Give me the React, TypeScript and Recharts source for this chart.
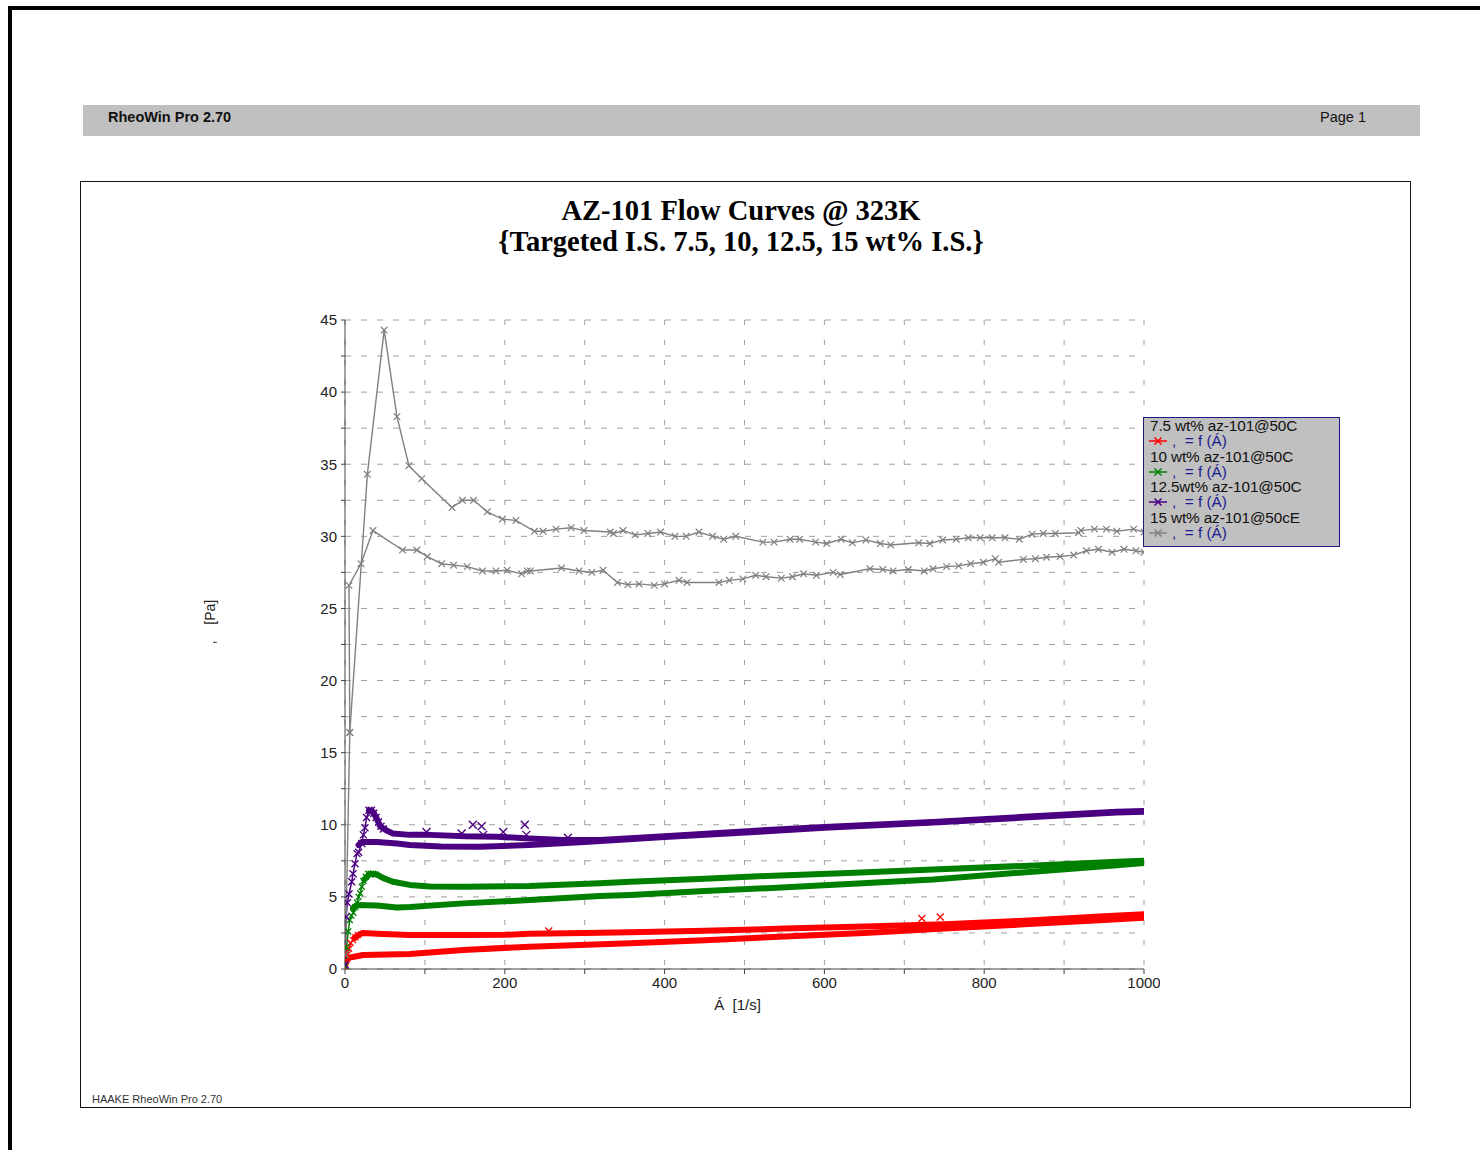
import React from 'react';
import { ComposedChart, Line, XAxis, YAxis, CartesianGrid } from 'recharts';

// ---------- data ----------
const xTicks = [0, 100, 200, 300, 400, 500, 600, 700, 800, 900, 1000];
const yTicks = [0, 2.5, 5, 7.5, 10, 12.5, 15, 17.5, 20, 22.5, 25, 27.5, 30, 32.5, 35, 37.5, 40, 42.5, 45];

const seriesNames = ['7.5 wt% az-101@50C', '10 wt% az-101@50C', '12.5wt% az-101@50C', '15 wt% az-101@50cE'];
const seriesColors = ['#ff0000', '#008000', '#4b0082', '#808080'];
const seriesFormula = ',  = f (Á)';

// 15 wt% (gray) – up ramp
const grayUp: number[][] = [
  [0.5, 1], [6, 16.4], [28, 34.3], [49, 44.3], [65, 38.3], [80, 34.9], [96, 34.0], [134, 32.0], [147, 32.5],
  [161, 32.5], [178, 31.7], [197, 31.2], [214, 31.1], [237, 30.35], [248, 30.35], [264, 30.5], [283, 30.6],
  [299, 30.4], [332, 30.3], [336, 30.2], [348, 30.4], [363, 30.1], [379, 30.2], [395, 30.3], [413, 30.0],
  [427, 30.0], [443, 30.3], [460, 30.0], [474, 29.8], [489, 30.0], [523, 29.6], [537, 29.6], [557, 29.8],
  [569, 29.8], [589, 29.6], [603, 29.5], [621, 29.8], [635, 29.55], [652, 29.75], [670, 29.5], [683, 29.4],
  [718, 29.55], [732, 29.5], [748, 29.75], [765, 29.8], [780, 29.9], [795, 29.9], [810, 29.9], [826, 29.9],
  [844, 29.8], [860, 30.15], [874, 30.2], [889, 30.2], [918, 30.25], [921, 30.4], [938, 30.5], [953, 30.5],
  [966, 30.35], [987, 30.5], [1000, 30.3],
];
// 15 wt% (gray) – down ramp
const grayDown: number[][] = [
  [6, 16.4], [5, 26.6], [20, 28.1], [35, 30.4], [72, 29.05], [90, 29.05], [103, 28.6], [121, 28.1], [136, 28.0],
  [153, 27.9], [172, 27.6], [189, 27.6], [203, 27.65], [221, 27.4], [228, 27.6], [232, 27.6], [271, 27.8],
  [293, 27.6], [309, 27.5], [323, 27.65], [341, 26.8], [354, 26.65], [368, 26.7], [387, 26.6], [400, 26.7],
  [418, 26.95], [428, 26.8], [468, 26.8], [481, 26.95], [498, 27.05], [514, 27.3], [527, 27.2], [546, 27.1],
  [560, 27.2], [574, 27.4], [590, 27.3], [611, 27.5], [620, 27.35], [657, 27.75], [673, 27.7], [686, 27.6],
  [705, 27.7], [725, 27.6], [736, 27.75], [753, 27.9], [768, 27.95], [783, 28.1], [799, 28.2], [814, 28.45],
  [818, 28.2], [849, 28.4], [864, 28.45], [878, 28.55], [895, 28.6], [912, 28.7], [928, 29.0], [943, 29.1],
  [960, 28.9], [975, 29.1], [990, 29.0], [1000, 28.9],
];

// 12.5 wt% (purple)
const purpleStart: number[][] = [
  [0.3, 0.3], [1.3, 3.6], [3, 4.6], [5, 5.2], [8.4, 6.05], [10, 6.6], [12.5, 7.3], [15, 8.0], [17, 8.1],
  [21, 8.7], [23, 9.3], [25, 9.8], [27, 10.5], [30, 11.0], [33, 11.0], [36, 10.8], [39, 10.5], [42, 10.2],
  [45, 9.9], [48, 9.7],
];
const purpleUp: number[][] = [
  [30, 11.0], [35, 10.9], [40, 10.4], [44, 9.9], [52, 9.6], [60, 9.4], [81, 9.3], [106, 9.3], [150, 9.2],
  [190, 9.17], [231, 9.05], [273, 8.95], [319, 8.95], [400, 9.2], [528, 9.64], [600, 9.85], [736, 10.2],
  [850, 10.55], [966, 10.9], [1000, 10.95],
];
const purpleDown: number[][] = [
  [17, 8.6], [21, 8.8], [40, 8.8], [65, 8.7], [81, 8.6], [120, 8.5], [169, 8.48], [231, 8.6], [300, 8.8],
  [400, 9.15], [528, 9.55], [600, 9.8], [736, 10.15], [850, 10.5], [966, 10.85], [1000, 10.9],
];
const purpleOutliers: number[][] = [
  [102, 9.5], [146, 9.4], [160, 10.0], [171, 9.9], [173, 9.3], [198, 9.5], [225, 10.0], [227, 9.3], [279, 9.1],
];

// 10 wt% (green)
const greenStart: number[][] = [
  [0.3, 0.2], [2, 1.5], [4, 2.6], [6, 3.4], [8, 3.7], [10.5, 3.9], [13, 4.3], [15, 4.6], [17, 5.0],
  [19, 5.25], [21, 5.7], [23, 6.1], [26, 6.4], [29, 6.6], [32, 6.6], [35, 6.6], [38, 6.55],
];
const greenUp: number[][] = [
  [24, 6.2], [31, 6.6], [40, 6.55], [48, 6.3], [60, 6.05], [81, 5.83], [106, 5.72], [150, 5.7], [231, 5.75],
  [319, 5.94], [357, 6.05], [450, 6.25], [528, 6.45], [630, 6.65], [736, 6.9], [850, 7.15], [966, 7.44],
  [1000, 7.5],
];
const greenDown: number[][] = [
  [10, 4.2], [14.6, 4.44], [40, 4.4], [65, 4.27], [81, 4.3], [148, 4.55], [231, 4.78], [319, 5.06],
  [357, 5.13], [450, 5.4], [528, 5.6], [630, 5.9], [736, 6.2], [861, 6.75], [966, 7.2], [1000, 7.35],
];

// 7.5 wt% (red)
const redStart: number[][] = [
  [0.3, 0.1], [1.5, 0.6], [3, 1.0], [5, 1.4], [7, 1.8], [10, 2.0], [13, 2.2], [16, 2.35],
];
const redUp: number[][] = [
  [12, 2.15], [18, 2.4], [23, 2.5], [40, 2.45], [81, 2.36], [106, 2.35], [150, 2.35], [200, 2.37],
  [231, 2.45], [300, 2.5], [357, 2.55], [450, 2.65], [550, 2.8], [650, 2.95], [750, 3.1], [850, 3.35],
  [950, 3.65], [1000, 3.8],
];
const redDown: number[][] = [
  [1, 0.4], [3, 0.65], [6, 0.8], [23, 0.97], [81, 1.04], [148, 1.32], [231, 1.55], [357, 1.78],
  [450, 2.0], [550, 2.25], [650, 2.5], [750, 2.8], [850, 3.1], [950, 3.4], [1000, 3.55],
];
const redOutliers: number[][] = [[255, 2.63], [722, 3.5], [745, 3.6]];

// ---------- helpers ----------
const toPts = (a: number[][]) => a.map(([x, y]) => ({ x, y }));
const crossPath = (cx: number, cy: number, r: number) =>
  `M${cx - r},${cy - r}L${cx + r},${cy + r}M${cx - r},${cy + r}L${cx + r},${cy - r}`;
const makeDot = (color: string, r: number, sw: number) => (p: any) => {
  if (p == null || p.cx == null || p.cy == null) return <g key={`e${p?.index}`} />;
  return <path key={`d${p.index}`} d={crossPath(p.cx, p.cy, r)} stroke={color} strokeWidth={sw} fill="none" />;
};

const sans = '"Liberation Sans", Arial, sans-serif';
const tickStyle = { fontSize: 15, fill: '#222', fontFamily: sans };
const BAND = 6;

const [RED, GREEN, PURPLE, GRAY] = seriesColors;

function LegendBox() {
  return (
    <div
      style={{
        position: 'absolute', left: 1143, top: 417, width: 195, height: 128,
        background: '#c0c0c0', border: '1.5px solid #1c1c80', fontFamily: sans, fontSize: 15.3,
        lineHeight: '15.3px', paddingTop: 0, zIndex: 5,
      }}
    >
      {seriesNames.map((n, i) => (
        <div key={n}>
          <div style={{ color: '#111', paddingLeft: 6, whiteSpace: 'nowrap', letterSpacing: -0.1 }}>{n}</div>
          <div style={{ display: 'flex', alignItems: 'center', paddingLeft: 4, height: 15.3 }}>
            <svg width={20} height={10} style={{ display: 'block' }}>
              <line x1={1} y1={5} x2={19} y2={5} stroke={seriesColors[i]} strokeWidth={1.5} />
              <path d={crossPath(10, 5, 3.5)} stroke={seriesColors[i]} strokeWidth={1.5} fill="none" />
            </svg>
            <span style={{ color: '#1c1c90', marginLeft: 4, whiteSpace: 'pre' }}>{seriesFormula}</span>
          </div>
        </div>
      ))}
    </div>
  );
}

export default function App() {
  return (
    <div style={{ position: 'absolute', left: 0, top: 0, width: 1480, height: 1150, overflow: 'hidden', background: '#fff' }}>
      {/* page frame */}
      <div style={{ position: 'absolute', left: 8, top: 6, width: 1500, height: 1200, borderLeft: '4.5px solid #000', borderTop: '4px solid #000' }} />
      {/* header bar */}
      <div style={{ position: 'absolute', left: 83, top: 105, width: 1337, height: 31, background: '#c0c0c0' }} />
      <div style={{ position: 'absolute', left: 108, top: 109, fontFamily: sans, fontWeight: 'bold', fontSize: 14.5, color: '#111', whiteSpace: 'nowrap' }}>RheoWin Pro 2.70</div>
      <div style={{ position: 'absolute', left: 1320, top: 109, fontFamily: sans, fontSize: 14.5, color: '#111', whiteSpace: 'nowrap' }}>Page 1</div>
      {/* chart frame */}
      <div style={{ position: 'absolute', left: 80, top: 181, width: 1329, height: 925, border: '1.3px solid #111' }} />
      {/* footer */}
      <div style={{ position: 'absolute', left: 92, top: 1093, fontFamily: sans, fontSize: 11, color: '#333', whiteSpace: 'nowrap', lineHeight: '13px' }}>HAAKE RheoWin Pro 2.70</div>
      {/* title */}
      <div style={{ position: 'absolute', left: 341, top: 195, width: 800, textAlign: 'center', fontFamily: '"Liberation Serif", "Times New Roman", serif', fontWeight: 'bold', fontSize: 28.5, lineHeight: '31px', color: '#000' }}>
        <div>AZ-101 Flow Curves @ 323K</div>
        <div>{'{Targeted I.S. 7.5, 10, 12.5, 15 wt% I.S.}'}</div>
      </div>

      <div style={{ position: 'absolute', left: 200, top: 300 }}>
        <ComposedChart width={960} height={720} margin={{ top: 20, right: 16, bottom: 21, left: 85 }}>
          <CartesianGrid vertical={false} stroke="#a0a0a0" strokeDasharray="6 10" />
          <CartesianGrid horizontal={false} stroke="#a0a0a0" strokeDasharray="5 15" />
          <XAxis
            type="number" dataKey="x" domain={[0, 1000]} ticks={xTicks} allowDataOverflow
            tickFormatter={(v: number) => (v % 200 === 0 ? String(v) : '')}
            tick={tickStyle} tickSize={5} tickMargin={3} height={30}
            stroke="#444" tickLine={{ stroke: '#444' }}
            label={{
              content: (pr: any) => {
                const vb = pr.viewBox || { x: 145, y: 669, width: 799 };
                return (
                  <text x={vb.x + vb.width / 2 - 7} y={vb.y + 41} textAnchor="middle" fontFamily={sans} fontSize={15} fill="#222" style={{ whiteSpace: 'pre' }}>
                    {'Á  [1/s]'}
                  </text>
                );
              },
            }}
          />
          <YAxis
            type="number" dataKey="y" domain={[0, 45]} ticks={yTicks} allowDataOverflow width={60}
            tickFormatter={(v: number) => (v % 5 === 0 ? String(v) : '')}
            tick={tickStyle} tickSize={4} tickMargin={4}
            stroke="#444" tickLine={{ stroke: '#444' }}
            label={{
              content: () => (
                <text x={0} y={0} transform="translate(15,322) rotate(-90)" textAnchor="middle" fontFamily={sans} fontSize={14} fill="#222" style={{ whiteSpace: 'pre' }}>
                  {',    [Pa]'}
                </text>
              ),
            }}
          />

          {/* 7.5 wt% */}
          <Line data={toPts(redDown)} dataKey="y" type="linear" stroke={RED} strokeWidth={BAND} strokeLinejoin="round" strokeLinecap="round" dot={false} isAnimationActive={false} />
          <Line data={toPts(redUp)} dataKey="y" type="linear" stroke={RED} strokeWidth={BAND} strokeLinejoin="round" strokeLinecap="round" dot={false} isAnimationActive={false} />
          <Line data={toPts(redStart)} dataKey="y" type="linear" stroke={RED} strokeWidth={1.5} dot={makeDot(RED, 3, 1.3)} isAnimationActive={false} />
          <Line data={toPts(redOutliers)} dataKey="y" type="linear" stroke="none" dot={makeDot(RED, 3.5, 1.3)} isAnimationActive={false} />

          {/* 10 wt% */}
          <Line data={toPts(greenDown)} dataKey="y" type="linear" stroke={GREEN} strokeWidth={BAND} strokeLinejoin="round" strokeLinecap="round" dot={false} isAnimationActive={false} />
          <Line data={toPts(greenUp)} dataKey="y" type="linear" stroke={GREEN} strokeWidth={BAND} strokeLinejoin="round" strokeLinecap="round" dot={false} isAnimationActive={false} />
          <Line data={toPts(greenStart)} dataKey="y" type="linear" stroke={GREEN} strokeWidth={1.5} dot={makeDot(GREEN, 3, 1.3)} isAnimationActive={false} />

          {/* 12.5 wt% */}
          <Line data={toPts(purpleDown)} dataKey="y" type="linear" stroke={PURPLE} strokeWidth={BAND} strokeLinejoin="round" strokeLinecap="round" dot={false} isAnimationActive={false} />
          <Line data={toPts(purpleUp)} dataKey="y" type="linear" stroke={PURPLE} strokeWidth={BAND} strokeLinejoin="round" strokeLinecap="round" dot={false} isAnimationActive={false} />
          <Line data={toPts(purpleStart)} dataKey="y" type="linear" stroke={PURPLE} strokeWidth={1.5} dot={makeDot(PURPLE, 3.5, 1.4)} isAnimationActive={false} />
          <Line data={toPts(purpleOutliers)} dataKey="y" type="linear" stroke="none" dot={makeDot(PURPLE, 4, 1.4)} isAnimationActive={false} />

          {/* 15 wt% */}
          <Line data={toPts(grayDown)} dataKey="y" type="linear" stroke={GRAY} strokeWidth={1.4} dot={makeDot(GRAY, 3.3, 1.2)} isAnimationActive={false} />
          <Line data={toPts(grayUp)} dataKey="y" type="linear" stroke={GRAY} strokeWidth={1.4} dot={makeDot(GRAY, 3.3, 1.2)} isAnimationActive={false} />
        </ComposedChart>
      </div>

      <LegendBox />
    </div>
  );
}
